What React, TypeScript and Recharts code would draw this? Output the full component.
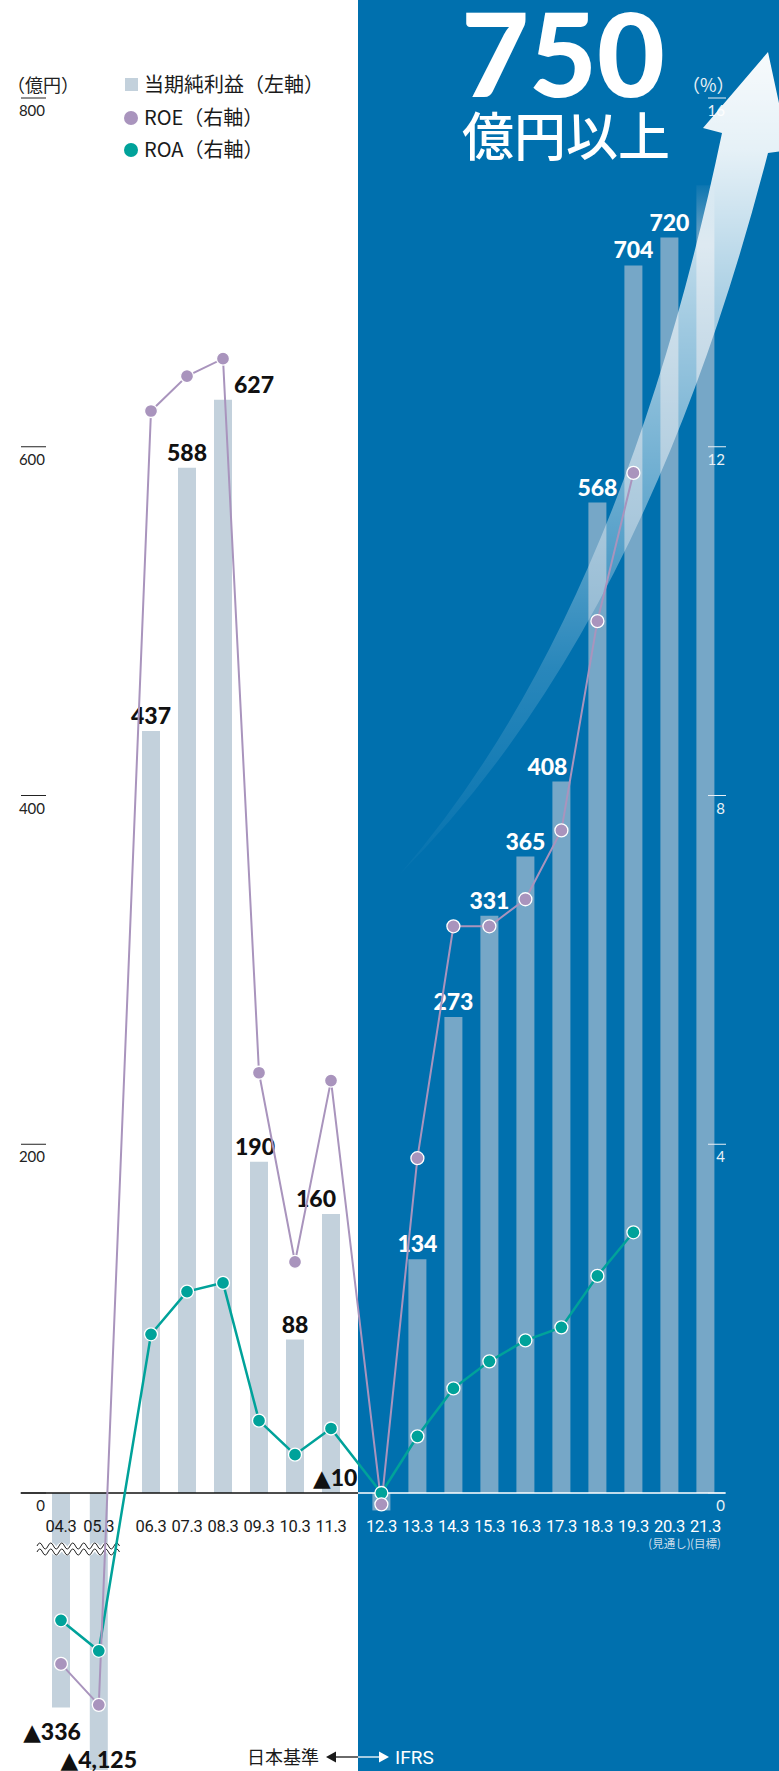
import React from 'react';
import {
  Bar,
  Cell,
  ComposedChart,
  LabelList,
  Line,
  ReferenceLine,
  XAxis,
  YAxis,
} from 'recharts';

// fiscal years (March year-end)
const fiscalYears = [
  '04.3', '05.3', '06.3', '07.3', '08.3', '09.3', '10.3', '11.3', '12.3',
  '13.3', '14.3', '15.3', '16.3', '17.3', '18.3', '19.3', '20.3', '21.3',
];
// horizontal slot of each year: the axis leaves a gap after 05.3 and at the switch to IFRS
const slots = [
  0, 1.05, 2.5, 3.5, 4.5, 5.5, 6.5, 7.5, 8.9,
  9.9, 10.9, 11.9, 12.9, 13.9, 14.9, 15.9, 16.9, 17.9,
];
const standards = [
  '日本基準', '日本基準', '日本基準', '日本基準', '日本基準', '日本基準', '日本基準', '日本基準',
  'IFRS', 'IFRS', 'IFRS', 'IFRS', 'IFRS', 'IFRS', 'IFRS', 'IFRS', 'IFRS', 'IFRS',
];
const yearNotes = ['', '', '', '', '', '', '', '', '', '', '', '', '', '', '', '', '(見通し)', '(目標)'];

// 当期純利益 (億円) as printed above / below the bars
const netIncomeText = [
  '▲336', '▲4,125', '437', '588', '627', '190', '88', '160', '▲10',
  '134', '273', '331', '365', '408', '568', '704', '720', '',
];
// bar heights as drawn; the axis is broken below zero, so 04.3 / 05.3 are shortened
const netIncomeDrawn = [
  -123, -175, 437, 588, 627, 190, 88, 160, -10,
  134, 273, 331, 365, 408, 568, 704, 720, 750,
];
// ROE / ROA (%) on the right axis, negative years read as drawn below the break
const roe = [
  -1.96, -2.43, 12.41, 12.81, 13.01, 4.82, 2.65, 4.73, -0.13,
  3.84, 6.5, 6.5, 6.81, 7.6, 10.0, 11.7, null, null,
];
const roa = [
  -1.46, -1.81, 1.82, 2.31, 2.41, 0.83, 0.44, 0.74, 0,
  0.65, 1.2, 1.51, 1.75, 1.9, 2.49, 2.99, null, null,
];
const leftTicks = [0, 200, 400, 600, 800];
const rightTicks = [0, 4, 8, 12, 16];

const W = 779;
const H = 1771;
// plot area: the three axes each take 1px
const PLOT_LEFT = 1;
const PLOT_W = W - 2;
const PLOT_H = H - 1;
const ZERO_Y = 1493;
const PX_PER_OKU = 1395 / 800;
const X0 = 61;
const SLOT_PX = 36;
const SPLIT_X = 358;

const xMin = -(X0 - PLOT_LEFT) / SLOT_PX;
const xDomain: [number, number] = [xMin, xMin + PLOT_W / SLOT_PX];
const leftDomain: [number, number] = [-(PLOT_H - ZERO_Y) / PX_PER_OKU, ZERO_Y / PX_PER_OKU];
const rightDomain: [number, number] = [leftDomain[0] * 0.02, leftDomain[1] * 0.02];
const splitSlot = (SPLIT_X - X0) / SLOT_PX;
const axisStart = slots[0] - 1.12;
const axisEnd = slots[slots.length - 1] + 0.55;

const BLUE = '#0070ae';
const BAR_JP = '#c3d1dc';
const BAR_IFRS = '#76a7c7';
const PURPLE = '#a994bd';
const TEAL = '#00a29a';
const JP_FONT = '"Noto Sans CJK JP", "Noto Sans", sans-serif';
const NUM_FONT = 'Lato, "DejaVu Sans", sans-serif';
const TICK_FONT = 'Roboto, "Liberation Sans", sans-serif';

const rows = fiscalYears.map((year, i) => ({
  year,
  slot: slots[i],
  income: netIncomeDrawn[i],
  roe: roe[i],
  roa: roa[i],
}));

// small horizontal nudges so labels clear the lines
const labelNudge: Record<string, number> = {
  '04.3': -9,
  '08.3': 31,
  '09.3': -4,
  '11.3': -15,
  '17.3': -14,
};

function IncomeLabel(props: any) {
  const index = props.index as number;
  const text = netIncomeText[index];
  if (!text) return null;
  const x = Number(props.x);
  const y = Number(props.y);
  const w = Number(props.width);
  const h = Number(props.height);
  const top = Math.min(y, y + h);
  const bottom = Math.max(y, y + h);
  const ifrs = standards[index] === 'IFRS';
  let cx = x + w / 2 + (labelNudge[fiscalYears[index]] ?? 0);
  let baseline = top - 7;
  let anchor: 'middle' | 'end' = 'middle';
  let fill = ifrs ? '#fff' : '#111';
  if (netIncomeDrawn[index] < 0) {
    if (ifrs) {
      // ▲10 sits just left of the standard split, above the axis
      anchor = 'end';
      cx = x - 15;
      baseline = ZERO_Y - 7;
      fill = '#111';
    } else {
      baseline = Math.min(bottom + 33, H - 3);
    }
  }
  return (
    <text
      x={cx}
      y={baseline}
      textAnchor={anchor}
      fill={fill}
      fontFamily={NUM_FONT}
      fontWeight={900}
      fontSize={23}
    >
      {text}
    </text>
  );
}

function LeftTick(props: any) {
  const y = Number(props.y);
  return (
    <g>
      <line x1={21} x2={46} y1={y} y2={y} stroke="#222" strokeWidth={1} />
      <text x={45} y={y + 18} textAnchor="end" fill="#222" fontFamily={NUM_FONT} fontSize={15}>
        {props.payload.value}
      </text>
    </g>
  );
}

function RightTick(props: any) {
  const y = Number(props.y);
  return (
    <g>
      <line x1={708} x2={726} y1={y} y2={y} stroke="#e8f0f6" strokeWidth={1} />
      <text x={725} y={y + 18} textAnchor="end" fill="#e8f0f6" fontFamily={NUM_FONT} fontSize={15}>
        {props.payload.value}
      </text>
    </g>
  );
}

function YearTick(props: any) {
  const x = Number(props.x);
  const i = slots.indexOf(props.payload.value);
  if (i < 0) return null;
  const ifrs = standards[i] === 'IFRS';
  return (
    <g>
      <text
        x={x}
        y={ZERO_Y + 39}
        textAnchor="middle"
        fill={ifrs ? '#fff' : '#1a1a1a'}
        fontFamily={TICK_FONT}
        fontSize={16.5}
        letterSpacing={-0.3}
      >
        {fiscalYears[i]}
      </text>
      {yearNotes[i] ? (
        <text
          x={x}
          y={ZERO_Y + 55}
          textAnchor="middle"
          fill="#c9dcea"
          fontFamily={JP_FONT}
          fontSize={11.5}
        >
          {yearNotes[i]}
        </text>
      ) : null}
    </g>
  );
}

function wave(y0: number) {
  let d = `M 37 ${y0} q 2.75 -6 5.5 0`;
  for (let k = 0; k < 14; k++) d += ' t 5.5 0';
  return d;
}

const layer: React.CSSProperties = { position: 'absolute', left: 0, top: 0, width: W, height: H };

export default function App() {
  return (
    <div
      style={{
        position: 'absolute',
        left: 0,
        top: 0,
        width: W,
        height: H,
        overflow: 'hidden',
        fontFamily: JP_FONT,
        background: `linear-gradient(to right, #ffffff ${SPLIT_X}px, ${BLUE} ${SPLIT_X}px)`,
      }}
    >
      <div style={layer}>
        <ComposedChart width={W} height={H} data={rows} margin={{ top: 0, right: 0, bottom: 0, left: 0 }}>
          <XAxis
            type="number"
            dataKey="slot"
            domain={xDomain}
            allowDataOverflow
            ticks={slots}
            interval={0}
            height={1}
            axisLine={false}
            tickLine={false}
            tick={(p: any) => <YearTick {...p} />}
          />
          <YAxis
            yAxisId="left"
            domain={leftDomain}
            allowDataOverflow
            ticks={leftTicks}
            interval={0}
            width={1}
            axisLine={false}
            tickLine={false}
            tick={(p: any) => <LeftTick {...p} />}
          />
          <YAxis
            yAxisId="right"
            orientation="right"
            domain={rightDomain}
            allowDataOverflow
            ticks={rightTicks}
            interval={0}
            width={1}
            axisLine={false}
            tickLine={false}
            tick={(p: any) => <RightTick {...p} />}
          />
          <Bar yAxisId="left" dataKey="income" barSize={18} isAnimationActive={false}>
            {rows.map((r, i) => (
              <Cell
                key={r.year}
                fill={
                  i === rows.length - 1
                    ? 'url(#barFade)'
                    : standards[i] === 'IFRS'
                      ? BAR_IFRS
                      : BAR_JP
                }
              />
            ))}
            <LabelList dataKey="income" content={(p: any) => <IncomeLabel {...p} />} />
          </Bar>
          <ReferenceLine
            yAxisId="left"
            segment={[{ x: axisStart, y: 0 }, { x: splitSlot, y: 0 }]}
            stroke="#111"
            strokeWidth={1.3}
          />
          <ReferenceLine
            yAxisId="left"
            segment={[{ x: splitSlot, y: 0 }, { x: axisEnd, y: 0 }]}
            stroke="#ffffff"
            strokeWidth={1.3}
          />
        </ComposedChart>
      </div>

      <svg style={layer} width={W} height={H}>
        <defs>
          <linearGradient id="barFade" x1="0" y1="0" x2="0" y2="1">
            <stop offset="0" stopColor={BAR_IFRS} stopOpacity={0.1} />
            <stop offset="0.045" stopColor={BAR_IFRS} stopOpacity={1} />
            <stop offset="1" stopColor={BAR_IFRS} stopOpacity={1} />
          </linearGradient>
          <linearGradient id="arrowFade" gradientUnits="userSpaceOnUse" x1="0" y1="52" x2="0" y2="874">
            <stop offset="0" stopColor="#ffffff" stopOpacity={0.97} />
            <stop offset="0.12" stopColor="#ffffff" stopOpacity={0.9} />
            <stop offset="0.34" stopColor="#ffffff" stopOpacity={0.62} />
            <stop offset="0.55" stopColor="#ffffff" stopOpacity={0.4} />
            <stop offset="0.75" stopColor="#ffffff" stopOpacity={0.16} />
            <stop offset="1" stopColor="#ffffff" stopOpacity={0.02} />
          </linearGradient>
        </defs>
        <path
          d="M 400 874 Q 620 620 722 133 L 703 128 L 768 52 L 789 150 L 768 153 Q 645 630 400 874 Z"
          fill="url(#arrowFade)"
        />
        <path d={wave(1549)} fill="none" stroke="#ffffff" strokeWidth={7} />
        <path d={wave(1546)} fill="none" stroke="#222" strokeWidth={1} />
        <path d={wave(1552)} fill="none" stroke="#222" strokeWidth={1} />

        <text x={563} y={97} textAnchor="middle" fill="#fff" fontFamily={NUM_FONT} fontWeight={900} fontSize={117}>
          750
        </text>
        <text x={566} y={156} textAnchor="middle" fill="#fff" fontFamily={JP_FONT} fontWeight={500} fontSize={52}>
          億円以上
        </text>

        <text x={7} y={92} fill="#222" fontFamily={JP_FONT} fontSize={18}>（億円）</text>
        <text x={682} y={92} fill="#e8f0f6" fontFamily={JP_FONT} fontSize={18}>（%）</text>

        <rect x={125} y={78} width={13} height={13} fill={BAR_JP} />
        <text x={144} y={92} fill="#1a1a1a" fontFamily={JP_FONT} fontSize={20}>当期純利益（左軸）</text>
        <circle cx={131} cy={118} r={7} fill={PURPLE} />
        <text x={144} y={125} fill="#1a1a1a" fontFamily={JP_FONT} fontSize={20}>ROE（右軸）</text>
        <circle cx={131} cy={150} r={7} fill={TEAL} />
        <text x={144} y={157} fill="#1a1a1a" fontFamily={JP_FONT} fontSize={20}>ROA（右軸）</text>

        <text x={319} y={1764} textAnchor="end" fill="#1a1a1a" fontFamily={JP_FONT} fontSize={18}>日本基準</text>
        <line x1={332} x2={SPLIT_X} y1={1757} y2={1757} stroke="#1a1a1a" strokeWidth={1.3} />
        <path d="M 326 1757 L 336 1751.5 L 336 1762.5 Z" fill="#1a1a1a" />
        <line x1={SPLIT_X} x2={383} y1={1757} y2={1757} stroke="#fff" strokeWidth={1.3} />
        <path d="M 389 1757 L 379 1751.5 L 379 1762.5 Z" fill="#fff" />
        <text x={395} y={1764} fill="#fff" fontFamily={TICK_FONT} fontSize={19}>IFRS</text>
      </svg>

      <div style={layer}>
        <ComposedChart width={W} height={H} data={rows} margin={{ top: 0, right: 0, bottom: 0, left: 0 }}>
          <XAxis type="number" dataKey="slot" domain={xDomain} allowDataOverflow height={1} axisLine={false} tickLine={false} tick={false} />
          <YAxis yAxisId="left" domain={leftDomain} allowDataOverflow width={1} axisLine={false} tickLine={false} tick={false} />
          <YAxis yAxisId="right" orientation="right" domain={rightDomain} allowDataOverflow width={1} axisLine={false} tickLine={false} tick={false} />
          <Line
            yAxisId="right"
            dataKey="roa"
            stroke={TEAL}
            strokeWidth={2.5}
            dot={{ r: 6.5, fill: TEAL, stroke: '#fff', strokeWidth: 1.3 }}
            activeDot={false}
            isAnimationActive={false}
          />
          <Line
            yAxisId="right"
            dataKey="roe"
            stroke={PURPLE}
            strokeWidth={2}
            dot={{ r: 6.5, fill: PURPLE, stroke: '#fff', strokeWidth: 1.3 }}
            activeDot={false}
            isAnimationActive={false}
          />
        </ComposedChart>
      </div>
    </div>
  );
}
